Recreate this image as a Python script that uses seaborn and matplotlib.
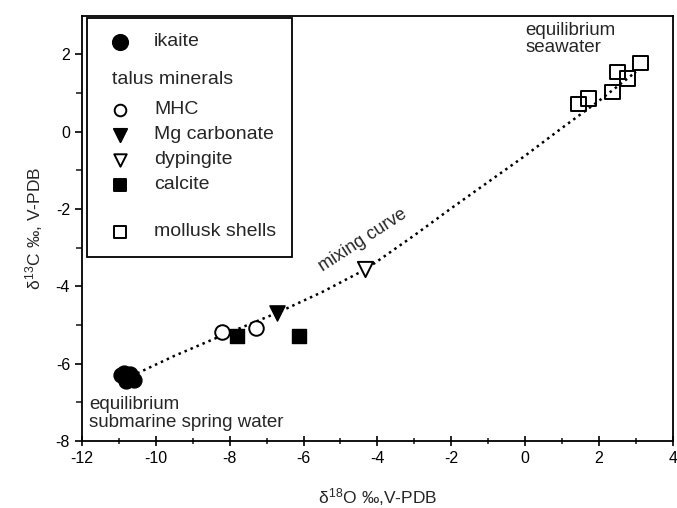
import matplotlib
matplotlib.use("Agg")
import matplotlib.pyplot as plt
import seaborn as sns
from matplotlib.patches import Rectangle

# ---- data ----
ikaite_x = [-10.95, -10.85, -10.75, -10.7, -10.6, -10.8]
ikaite_y = [-6.30, -6.24, -6.33, -6.27, -6.42, -6.44]
mhc_x = [-8.2, -7.3]
mhc_y = [-5.18, -5.08]
mgcarb_x = [-6.72]
mgcarb_y = [-4.70]
dyp_x = [-4.33]
dyp_y = [-3.55]
calcite_x = [-7.8, -6.12]
calcite_y = [-5.29, -5.29]
mollusk_x = [1.44, 1.71, 2.36, 2.50, 2.77, 3.12]
mollusk_y = [0.72, 0.86, 1.03, 1.55, 1.38, 1.78]
curve_x = [-10.5, -9.5, -8.2, -6.7, -5.5, -4.3, -3.0, -2.0, -1.0, 0.0, 1.0, 2.0, 3.0]
curve_y = [-6.25, -5.80, -5.27, -4.68, -4.15, -3.55, -2.68, -1.98, -1.30, -0.62, 0.10, 0.80, 1.55]

legend_labels = ["ikaite", "talus minerals", "MHC", "Mg carbonate", "dypingite", "calcite", "mollusk shells"]

sns.set_theme(style="ticks")
plt.rcParams["font.family"] = ["Liberation Sans", "DejaVu Sans"]
plt.rcParams["mathtext.fontset"] = "custom"
plt.rcParams["mathtext.rm"] = "Liberation Sans"
plt.rcParams["mathtext.it"] = "Liberation Sans"
plt.rcParams["axes.unicode_minus"] = False

fig = plt.figure(figsize=(6.77, 5.08), dpi=100)
ax = fig.add_axes([0.121, 0.132, 0.873, 0.837])

sns.lineplot(x=curve_x, y=curve_y, sort=False, estimator=None, ax=ax,
             color="black", linestyle=(0, (1, 1.6)), linewidth=1.8, zorder=1)

kw = dict(ax=ax, legend=False, zorder=3)
sns.scatterplot(x=ikaite_x, y=ikaite_y, marker="o", s=115, color="black",
                edgecolor="black", linewidth=1, **kw)
sns.scatterplot(x=mhc_x, y=mhc_y, marker="o", s=110, color="white",
                edgecolor="black", linewidth=1.4, **kw)
sns.scatterplot(x=mgcarb_x, y=mgcarb_y, marker="v", s=120, color="black",
                edgecolor="black", linewidth=1, **kw)
sns.scatterplot(x=dyp_x, y=dyp_y, marker="v", s=120, color="white",
                edgecolor="black", linewidth=1.4, **kw)
sns.scatterplot(x=calcite_x, y=calcite_y, marker="s", s=110, color="black",
                edgecolor="black", linewidth=1, **kw)
sns.scatterplot(x=mollusk_x, y=mollusk_y, marker="s", s=110, color="none",
                edgecolor="black", linewidth=1.4, **kw)

ax.set_xlim(-12, 4)
ax.set_ylim(-8, 3)
ax.set_xticks(range(-12, 5, 2))
ax.set_xticks(range(-11, 4, 2), minor=True)
ax.set_yticks(range(-8, 3, 2))
ax.set_yticks(range(-7, 3, 2), minor=True)
ax.tick_params(axis="x", which="major", direction="inout", length=7, width=1.2,
               labelsize=11.5, colors="black", pad=4)
ax.tick_params(axis="x", which="minor", direction="inout", length=5, width=1.2)
ax.tick_params(axis="y", which="major", direction="out", length=5, width=1.2,
               labelsize=11.5, colors="black")
ax.tick_params(axis="y", which="minor", direction="out", length=4, width=1.2)
for sp in ax.spines.values():
    sp.set_visible(True)
    sp.set_color("black")
    sp.set_linewidth(1.3)

ax.set_xlabel(r"$\delta^{18}$O ‰,V-PDB", fontsize=12.5, labelpad=14)
ax.set_ylabel(r"$\delta^{13}$C ‰, V-PDB", fontsize=12.5, labelpad=8)

# annotations
ax.text(0.0, 2.85, "equilibrium\nseawater", fontsize=13.5, ha="left", va="top",
        linespacing=1.05)
ax.text(-11.8, -6.85, "equilibrium\nsubmarine spring water", fontsize=13.5,
        ha="left", va="top", linespacing=1.05)
ax.text(-4.4, -2.80, "mixing curve", fontsize=13, rotation=33,
        ha="center", va="center")

# legend box drawn in axes coordinates
def px2ax(px, py):
    return (px - 82) / 591.0, (441 - py) / 425.0

x0, y1 = px2ax(87, 18)
x1, y0 = px2ax(292, 257)
ax.add_patch(Rectangle((x0, y0), x1 - x0, y1 - y0, transform=ax.transAxes,
                       facecolor="white", edgecolor="black", linewidth=1.3,
                       zorder=5))
mk_x, _ = px2ax(120, 0)
tx_x, _ = px2ax(154, 0)
hd_x, _ = px2ax(112, 0)
rows = [
    (42, "o", "black", 120),
    (80, None, None, 0),
    (110, "o", "white", 70),
    (135, "v", "black", 90),
    (160, "v", "white", 80),
    (185, "s", "black", 85),
    (232, "s", "white", 85),
]
for (py, m, fc, s), lab in zip(rows, legend_labels):
    _, yy = px2ax(0, py)
    if m is None:
        ax.text(hd_x, yy, lab, transform=ax.transAxes, fontsize=14,
                ha="left", va="center", zorder=6)
        continue
    ax.scatter([mk_x], [yy], transform=ax.transAxes, marker=m, s=s,
               facecolor=fc, edgecolor="black", linewidth=1.4, zorder=6,
               clip_on=False)
    ax.text(tx_x, yy, lab, transform=ax.transAxes, fontsize=14,
            ha="left", va="center", zorder=6)

fig.savefig("out.png", dpi=100)
